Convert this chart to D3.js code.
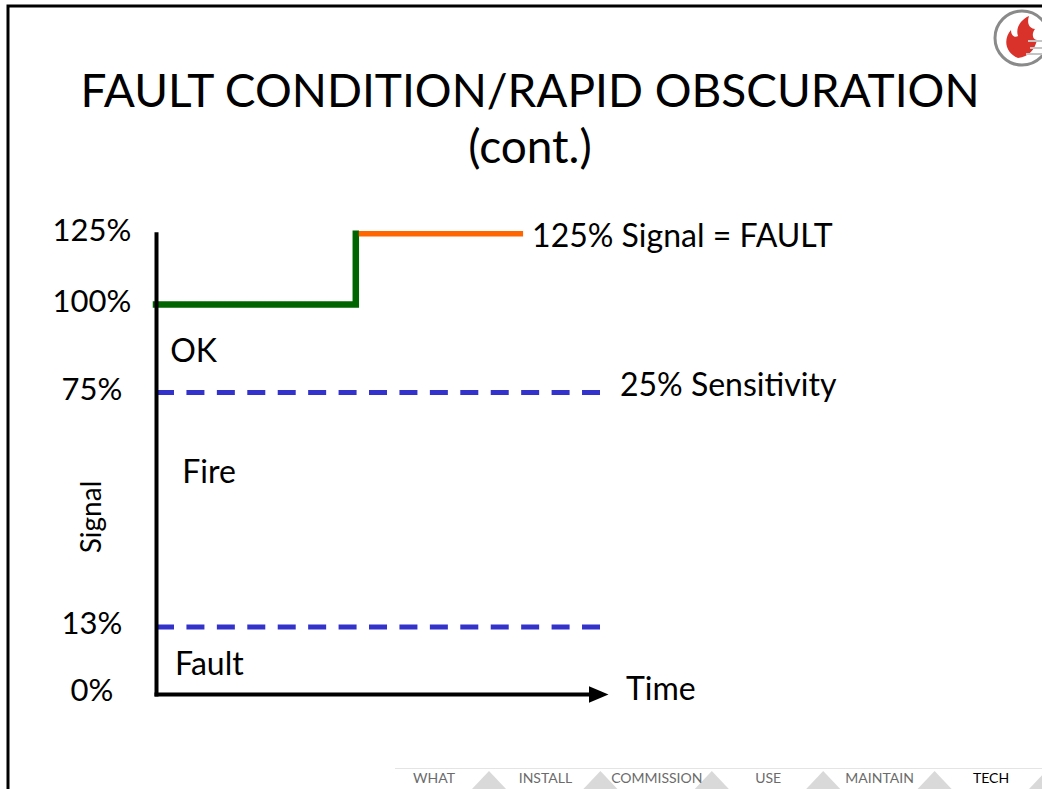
<!DOCTYPE html>
<html>
<head>
<meta charset="utf-8">
<script src="https://cdn.jsdelivr.net/npm/d3@7"></script>
<style>
  body { margin: 0; background: #fff; }
  text { font-family: Lato, "Open Sans", sans-serif; }
</style>
</head>
<body>
<div id="graph"></div>
<script>
// signal levels (percent) on the y axis
var yTicks = [0, 13, 75, 100, 125];
var tickLabels = ["0%", "13%", "75%", "100%", "125%"];

// signal trace: ok part, then jump to fault level
var okSignal = [[0, 100], [45, 100], [45, 125]];
var faultSignal = [[45, 125], [82, 125]];

// thresholds drawn dashed
var thresholds = [75, 13];

// zone labels [time, level]
var zoneNames = ["OK", "Fire", "Fault"];
var zoneAt = [[3.2, 83.7], [5.9, 51], [4.3, 3.7]];

var navItems = ["WHAT", "INSTALL", "COMMISSION", "USE", "MAINTAIN", "TECH"];
var navCurrent = "TECH";

var width = 1042, height = 789;

var svg = d3.select("#graph")
  .append("svg")
  .attr("width", width)
  .attr("height", height);

// slide frame
svg.append("path")
  .attr("d", "M8,789V6H1042")
  .attr("fill", "none")
  .attr("stroke", "#000")
  .attr("stroke-width", 3);

// title
svg.append("text")
  .attr("x", 530).attr("y", 107)
  .attr("text-anchor", "middle")
  .style("font-size", "46px")
  .text("FAULT CONDITION/RAPID OBSCURATION");
svg.append("text")
  .attr("x", 530).attr("y", 163)
  .attr("text-anchor", "middle")
  .style("font-size", "46px")
  .text("(cont.)");

// scales - the slide's y spacing is not even, so piecewise linear
var x = d3.scaleLinear().domain([0, 100]).range([156, 600]);
var y = d3.scaleLinear()
  .domain(yTicks)
  .range([694, 627, 392.5, 304.5, 233.7]);

// arrow for time axis
svg.append("defs").append("marker")
  .attr("id", "arrow")
  .attr("markerUnits", "userSpaceOnUse")
  .attr("markerWidth", 22).attr("markerHeight", 20)
  .attr("refX", 12).attr("refY", 10)
  .attr("orient", "auto")
  .append("path")
  .attr("d", "M0,1.5L20,10L0,18.5Z")
  .attr("fill", "#000");

// dashed thresholds
svg.selectAll(".thr")
  .data(thresholds)
  .enter().append("line")
  .attr("class", "thr")
  .attr("x1", x(0)).attr("x2", x(100))
  .attr("y1", d => y(d)).attr("y2", d => y(d))
  .attr("stroke", "#3333cc")
  .attr("stroke-width", 5)
  .attr("stroke-dasharray", "18,12.43");

var line = d3.line().x(d => x(d[0])).y(d => y(d[1]));

svg.append("path")
  .datum(okSignal)
  .attr("d", line)
  .attr("fill", "none")
  .attr("stroke", "#006400")
  .attr("stroke-width", 6.5)
  .attr("stroke-linecap", "square");

svg.append("path")
  .datum(faultSignal)
  .attr("d", line)
  .attr("fill", "none")
  .attr("stroke", "#ff6600")
  .attr("stroke-width", 5.5)
  .attr("transform", "translate(3,0)");

// y axis
var yAxis = d3.axisLeft(y)
  .tickValues(yTicks)
  .tickFormat((d, i) => tickLabels[i])
  .tickSize(0)
  .tickPadding(0);

var gy = svg.append("g")
  .attr("transform", "translate(" + x(0) + ",0)")
  .call(yAxis);
gy.select(".domain")
  .attr("stroke", "#000")
  .attr("stroke-width", 4)
  .attr("stroke-linecap", "square");
gy.selectAll("text")
  .attr("x", -64)
  .attr("dy", "0.22em")
  .attr("text-anchor", "middle")
  .attr("fill", "#000")
  .style("font-size", "31px")
  .style("font-family", "Lato, sans-serif");

// x axis (time), no ticks
var xAxis = d3.axisBottom(x).tickValues([]).tickSizeOuter(0);
var gx = svg.append("g")
  .attr("transform", "translate(0," + y(0) + ")")
  .call(xAxis);
gx.select(".domain")
  .attr("stroke", "#000")
  .attr("stroke-width", 4)
  .attr("stroke-linecap", "square")
  .attr("marker-end", "url(#arrow)");

svg.append("text")
  .attr("x", 626).attr("y", y(0) + 6)
  .style("font-size", "32px")
  .text("Time");

svg.append("text")
  .attr("transform", "translate(101,517) rotate(-90)")
  .attr("text-anchor", "middle")
  .style("font-size", "28px")
  .text("Signal");

// annotations at line ends
svg.append("text")
  .attr("x", x(82) + 12).attr("y", y(125) + 13)
  .style("font-size", "32px")
  .text("125% Signal = FAULT");
svg.append("text")
  .attr("x", x(100) + 20).attr("y", y(75) + 3)
  .style("font-size", "32px")
  .text("25% Sensitivity");

svg.selectAll(".zone")
  .data(zoneNames)
  .enter().append("text")
  .attr("class", "zone")
  .attr("x", (d, i) => x(zoneAt[i][0]))
  .attr("y", (d, i) => y(zoneAt[i][1]))
  .style("font-size", "32px")
  .text(d => d);

// logo, top right (cut by the page edge)
var logo = svg.append("g").attr("transform", "translate(1022,38)");
logo.append("circle")
  .attr("r", 27)
  .attr("fill", "#fff")
  .attr("stroke", "#8a8a8a")
  .attr("stroke-width", 3);
logo.append("path")
  .attr("d", "M-4,20 C-17,15 -19,1 -11,-8 C-11,-2 -7,0 -4,-2 C-7,-11 0,-19 7,-22 C4,-13 9,-9 13,-9 C9,-4 11,2 15,2 C13,11 7,19 -4,20 Z")
  .attr("fill", "#d8322a");
logo.append("path")
  .attr("d", "M6,3 H26 M8,10 H26 M4,16 H24")
  .attr("stroke", "#c4c4c4")
  .attr("stroke-width", 2);

// bottom navigation
var nav = svg.append("g");
var navX = d3.scalePoint().domain(navItems).range([434, 991]);

nav.append("line")
  .attr("x1", 395).attr("x2", 1042)
  .attr("y1", 768.5).attr("y2", 768.5)
  .attr("stroke", "#e4e4e4")
  .attr("stroke-width", 1);

nav.selectAll(".tri")
  .data(navItems)
  .enter().append("path")
  .attr("class", "tri")
  .attr("d", d => {
    var c = navX(d) + 55;
    return "M" + (c - 17) + ",789L" + c + ",771L" + (c + 17) + ",789Z";
  })
  .attr("fill", "#d9d9d9");

nav.selectAll(".nav")
  .data(navItems)
  .enter().append("text")
  .attr("class", "nav")
  .attr("x", d => navX(d))
  .attr("y", 783)
  .attr("text-anchor", "middle")
  .attr("fill", d => d === navCurrent ? "#000" : "#6b6b6b")
  .style("font-size", "14px")
  .text(d => d);
</script>
</body>
</html>
